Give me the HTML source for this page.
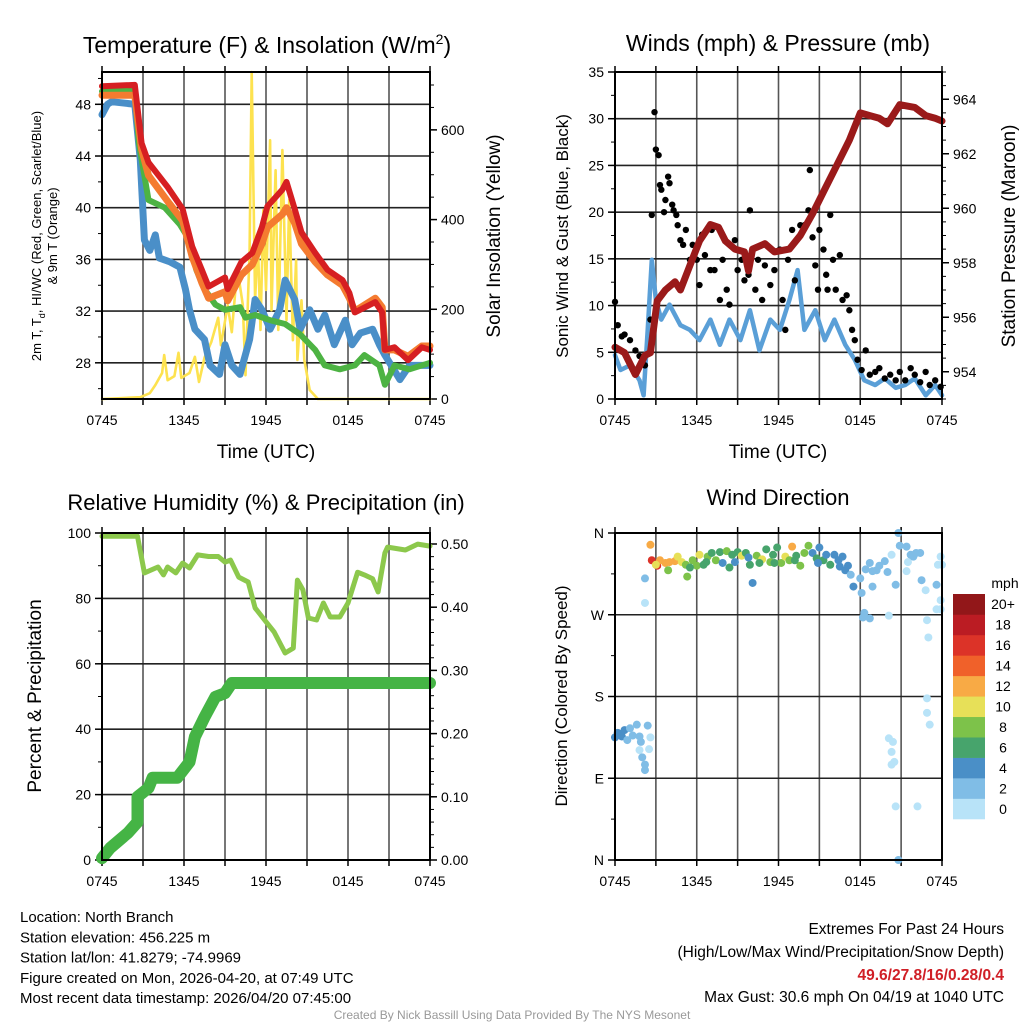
<!DOCTYPE html>
<html><head><meta charset="utf-8"><style>
html,body{margin:0;padding:0;background:#fff}
svg{display:block;font-family:"Liberation Sans",Arial,sans-serif}
</style></head><body>
<svg id="c" width="1024" height="1024" viewBox="0 0 1024 1024"></svg>
<script>
// ---------- DATA ----------
const xTickLabels=["0745","1345","1945","0145","0745"];
// temperature panel (hours since 0745)
const redT=[0,2.4,2.9,3.4,4.8,5.9,6.6,7.3,7.8,9.0,9.2,10.2,11.0,11.7,12.1,13.2,13.5,14.1,14.6,15.6,16.5,17.6,18.1,18.5,20.0,20.5,20.7,21.4,22.4,23.4,24];
const redV=[49.4,49.5,45,43.5,41.6,39.9,37,35.2,33.9,34.6,33.7,35.8,36.5,38.5,40.1,41.4,42,39.9,38.1,36.5,35.2,34.4,33.4,31.9,32.7,31.9,29,29.2,28.2,29.2,29];
const orangeV=[48.7,48.7,44.5,42.5,40.5,39,36.2,34.2,33,33.5,32.8,34.8,35.6,37.2,38.5,39.5,40,38.8,37.2,35.8,34.8,34,33,32,33,32.3,29,29,28.5,29.3,29.3];
const greenT=[0,2.4,2.7,3.4,4.6,5.7,6.4,6.9,7.5,8.3,9,10.1,10.5,11.2,12.3,13.4,14.5,15.6,16.3,17.4,18.5,19.2,20.3,20.7,21.4,22.5,24];
const greenV=[49,49.1,45,40.6,40,38.7,37.5,35.2,33.7,32.5,32.1,32.3,31.5,31.7,31.3,31,30.2,29,27.8,27.5,27.8,28.6,27.8,26.3,27.8,27.5,28];
const blueT=[0,0.4,0.7,2.4,2.8,3.1,3.5,3.9,4.2,5.0,5.7,6.1,6.4,6.8,7.5,7.9,8.6,9.0,9.5,10.1,10.8,11.2,11.7,12.3,13,13.4,14.1,14.5,15.2,15.8,16.3,17.0,17.8,18.3,18.9,19.8,20.3,20.7,21.8,22.5,24];
const blueV=[47.2,48,48.2,48,43.7,37.5,36.7,37.9,36.1,35.8,35.4,33.7,32.1,30.6,29.8,27.8,27.1,29.4,27.8,27.1,29.8,32.9,32.1,30.6,32.1,34.4,32.9,30.6,32.1,30.6,31.7,29.4,31.3,29.4,30.3,30.6,29.4,28.6,26.7,27.8,27.8];
const solarT=[0,2.8,3.5,3.9,4.4,4.55,4.8,5.3,5.6,5.8,6.4,6.8,7.1,7.5,8.0,8.5,8.7,9.2,9.5,9.9,10.3,10.5,10.8,10.95,11.2,11.4,11.6,11.8,12.0,12.3,12.4,12.7,12.9,13.2,13.5,13.7,13.97,14.2,14.3,14.6,14.8,15.2,15.8,24];
const solarV=[0,4,13,31,58,98,42,51,103,47,58,94,38,92,127,181,120,209,149,292,210,53,332,729,220,354,154,421,243,577,198,510,154,555,176,444,131,310,87,220,87,20,0,0];
// winds panel
const gustT=[0,.2,.5,.7,1.1,1.5,1.8,2.2,2.6,2.7,2.9,3.0,3.2,3.3,3.4,3.6,3.7,3.9,4.0,4.2,4.3,4.5,4.6,4.8,5.0,5.2,5.5,5.7,6.0,6.2,6.4,6.6,7.0,7.1,7.3,7.7,7.9,8.2,8.4,8.8,9.0,9.3,9.5,9.8,9.9,10.3,10.5,10.8,11.0,11.4,11.7,12.1,12.3,12.5,12.7,13.0,13.2,13.6,13.9,14.2,14.3,14.5,14.7,14.9,15.0,15.3,15.5,15.6,15.8,16.0,16.2,16.5,16.7,17.0,17.2,17.4,17.6,17.8,18.1,18.4,18.7,19.1,19.4,19.8,20.2,20.6,20.9,21.3,21.7,22.0,22.4,22.8,23.1,23.5,23.9];
const gustV=[10.4,7.9,6.7,6.9,6.3,5.2,4.6,3.6,8.5,19.7,30.7,26.7,26.1,22.9,22.4,20.0,21.3,23.8,23.1,20.8,20.2,19.7,18.6,17.0,16.5,18.1,14.9,16.5,14.9,12.2,17.6,15.4,13.8,18.1,13.8,10.6,14.9,11.7,10.1,17.0,13.8,14.9,12.7,13.3,20.2,11.7,14.9,10.6,14.3,12.2,13.8,16.0,10.6,7.4,14.9,18.1,12.7,18.6,18.6,20.2,24.5,17.3,14.3,11.7,18.1,16.0,13.3,11.7,19.7,14.9,11.7,15.4,10.6,11.1,9.5,7.4,6.3,4.2,3.1,5.2,2.6,2.9,3.3,2.2,2.6,2.0,2.9,2.0,3.3,2.6,1.8,2.9,1.5,2.0,1.3];
const windT=[0,.4,1.1,1.8,2.1,2.4,2.7,3.0,3.4,4.0,4.8,5.5,6.2,7.0,7.7,8.4,9.2,9.9,10.6,11.4,12.1,12.8,13.4,13.9,14.7,15.4,16.1,16.9,17.6,18.3,19.1,19.8,20.6,21.3,22.0,22.8,23.5,24];
const windV=[4.7,3.1,3.6,2.0,0.4,7.4,14.9,10.6,8.5,10.1,7.9,7.4,6.3,8.5,5.8,8.5,6.3,9.5,5.2,8.5,7.4,10.6,13.8,7.4,9.5,6.3,8.5,5.8,4.2,2.0,1.5,2.2,1.2,1.5,2.2,0.4,1.5,0.4];
const presT=[0,.7,1.5,2.2,2.6,3.1,3.7,4.4,4.8,5.5,6.2,7.0,7.6,8.1,8.8,9.5,9.8,10.1,11.0,11.7,12.8,13.6,14.5,15.4,16.1,16.9,17.2,18.0,18.7,19.4,20.0,20.9,22.0,22.8,23.5,24];
const presV=[954.9,954.7,953.9,954.6,954.7,956.6,957.0,957.3,957.0,957.9,958.8,959.4,959.3,958.8,958.5,958.4,957.7,958.5,958.7,958.4,958.5,959.0,959.8,960.7,961.4,962.2,962.5,963.5,963.4,963.3,963.1,963.8,963.7,963.4,963.3,963.2];
// RH / precipitation
const rhT=[0,2.6,3.1,4.1,4.5,4.8,5.4,5.9,6.4,7.0,7.8,8.5,9.0,9.4,10.0,10.7,11.2,11.9,12.6,13.4,14.0,14.3,14.7,15.1,15.7,16.2,16.7,17.4,18.0,18.7,19.2,19.8,20.2,20.7,20.9,22.2,23.1,24];
const rhV=[99,99,87.8,89.6,87.2,89.6,87.8,90.8,89.3,93.3,92.8,92.8,91.1,91.7,86.5,85,77.1,73.4,69.7,63.3,64.8,85.6,82.6,74,73.4,78.6,74.3,74.3,78.6,88,87.2,86,82,93.9,95.7,94.8,96.6,96.0];
const prT=[0,0.6,1.9,2.6,2.6,2.6,3.4,3.7,5.5,6.4,6.8,7.5,8.3,9.0,9.5,24];
const prV=[0.003,0.019,0.043,0.06,0.074,0.1,0.114,0.13,0.13,0.155,0.195,0.226,0.258,0.264,0.28,0.28];
// wind direction
const dirT=[0,0.2,0.5,0.7,0.9,1.1,1.3,1.6,1.8,1.9,1.8,2.0,2.2,2.4,2.5,2.6,2.2,
 2.2,2.2,2.6,2.7,3.1,3.3,3.7,4.0,4.4,4.6,4.9,5.2,5.3,5.7,6.0,6.2,6.5,6.8,7.1,7.4,7.7,7.9,8.2,8.6,8.8,9.0,9.3,9.6,9.9,10.1,10.4,10.8,11.1,11.4,11.6,11.9,12.2,12.5,12.8,13.0,13.3,13.6,13.9,14.2,14.5,14.8,15.0,15.3,15.5,15.8,16.1,16.4,16.7,16.9,17.3,17.5,
 3.0,3.9,5.5,6.7,8.4,9.8,10.6,11.7,13.2,14.9,16.5,17.1,
 18.0,18.4,18.7,18.9,19.2,19.4,19.8,20.0,20.3,20.6,18.9,18.1,18.2,18.7,18.3,20.1,20.8,20.9,21.4,21.5,21.7,21.9,22.1,22.4,21.4,22.5,22.8,22.9,23.0,23.6,23.7,23.9,24,23.9,23.9,20.1,20.4,20.3,20.3,20.5,20.6,22.2,22.9,22.9,23.1,20.8,23.6];
const dirV=[135,140,136,143,132,145,137,149,136,130,121,113,105,148,122,135,99,
 310,283,347,330,324,330,327,328,329,334,328,325,312,330,324,336,325,334,338,330,339,327,340,336,328,339,335,338,325,305,335,331,342,328,336,344,327,334,330,345,335,324,338,346,338,332,344,330,336,325,336,330,334,319,314,301,
 325,319,322,328,322,333,327,327,330,327,323,324,
 310,320,327,318,319,324,329,317,336,303,301,294,267,266,272,269,360,346,345,328,336,334,338,338,318,308,297,264,245,303,325,334,325,286,276,134,130,119,105,108,59,59,178,162,149,0,276];
const dirS=[4,4,4,4,3,3,3,2,3,2,1,2,2,2,1,1,3,
 2,0,12,16,17,13,12,12,12,11,10,9,8,9,8,10,7,8,6,8,7,5,8,6,5,7,10,6,7,4,8,11,7,8,6,7,8,10,9,12,7,8,8,8,5,6,4,6,5,6,4,5,4,4,3,4,
 10,8,7,7,6,5,6,7,6,5,5,5,
 2,2,2,2,2,2,2,2,1,2,2,2,2,3,2,1,2,2,2,1,2,2,2,2,1,2,1,1,1,2,1,1,1,1,1,1,1,1,1,1,1,1,1,1,1,3,1];
const cbLabels=["0","2","4","6","8","10","12","14","16","18","20+"];
const cbColors=["#b8e3f8","#80bde6","#4a8fc7","#47a46c","#7dc24a","#e7e058","#f8aa45","#f0612a","#dc3328","#bb1c23","#921719"];

// ---------- DRAWING ----------
const NS="http://www.w3.org/2000/svg";
const svg=document.getElementById('c');
function el(tag,attrs,parent,text){const e=document.createElementNS(NS,tag);for(const k in attrs)e.setAttribute(k,attrs[k]);if(text!==undefined)e.textContent=text;(parent||svg).appendChild(e);return e;}
function grp(name){const g=el('g',{},svg);return g;}
function scale(d0,d1,r0,r1){return v=>r0+(v-d0)/(d1-d0)*(r1-r0);}
function txt(g,x,y,s,size,anchor,name,extra){const t=el('text',Object.assign({x:x,y:y,'font-size':size,'text-anchor':anchor||'middle',fill:'#000'},extra||{}),g,s);return t;}
function linePath(xs,ys,X,Y){return xs.map((t,i)=>(i?'L':'M')+X(t).toFixed(1)+','+Y(ys[i]).toFixed(1)).join('');}

function frame(g,P,X,hGrid,Y){
  for(let h=3;h<24;h+=3){el('line',{x1:X(h),x2:X(h),y1:P.t,y2:P.b,stroke:'#555','stroke-width':1.6},g);}
  hGrid.forEach(v=>el('line',{x1:P.l,x2:P.r,y1:Y(v),y2:Y(v),stroke:'#222','stroke-width':1.6},g));
  for(let h=0;h<=24;h+=3){el('line',{x1:X(h),x2:X(h),y1:P.b,y2:P.b+6,stroke:'#000','stroke-width':1.5},g);el('line',{x1:X(h),x2:X(h),y1:P.t,y2:P.t-6,stroke:'#000','stroke-width':1.5},g);}
  xTickLabels.forEach((s,i)=>txt(g,X(i*6),P.b+26,s,14,'middle','x-tick-label'));
}
function border(g,P){const r=el('rect',{x:P.l,y:P.t,width:P.r-P.l,height:P.b-P.t,fill:'none',stroke:'#000','stroke-width':2},g);}
function yTicks(g,P,Y,side,major,minor,labels){
  const x=side==='l'?P.l:P.r, d=side==='l'?-1:1;
  minor.forEach(v=>el('line',{x1:x,x2:x+d*4,y1:Y(v),y2:Y(v),stroke:'#000','stroke-width':1},g));
  major.forEach((v,i)=>{el('line',{x1:x,x2:x+d*7,y1:Y(v),y2:Y(v),stroke:'#000','stroke-width':1.5},g);
    txt(g,x+d*11,Y(v)+5,labels[i],14,side==='l'?'end':'start',side==='l'?'y-tick-label':'y2-tick-label');});
}
function series(g,d,color,w,name,extra){const p=el('path',Object.assign({d:d,fill:'none',stroke:color,'stroke-width':w,'stroke-linejoin':'round','stroke-linecap':'round'},extra||{}),g);return p;}
function range(a,b,s){const r=[];for(let v=a;v<=b+1e-9;v+=s)r.push(+v.toFixed(3));return r;}

// Panel 1
(function(){
  const P={l:102,r:430,t:72,b:399};const g=grp('temperature-panel');
  const X=scale(0,24,P.l,P.r),Y=scale(25.2,50.5,P.b,P.t),Y2=scale(0,729,P.b,P.t);
  const maj=[28,32,36,40,44,48];
  frame(g,P,X,maj,Y);
  yTicks(g,P,Y,'l',maj,range(26,50,2),maj.map(String));
  yTicks(g,P,Y2,'r',[0,200,400,600],range(0,700,50),["0","200","400","600"]);
  series(g,linePath(solarT,solarV,X,Y2),'#fde24f',2.6,'solar-insolation-line');
  series(g,linePath(blueT,blueV,X,Y),'#4a8fc8',7,'wind-chill-line');
  series(g,linePath(greenT,greenV,X,Y),'#4db343',6,'dewpoint-line');
  series(g,linePath(redT,orangeV,X,Y),'#f47b30',7,'temp-9m-line');
  series(g,linePath(redT,redV,X,Y),'#d61f22',6,'temp-2m-line');
  border(g,P);
  const t=txt(g,267,53,'',23,'middle','temperature-title');
  t.innerHTML='Temperature (F) &amp; Insolation (W/m<tspan dy="-9" font-size="14">2</tspan><tspan dy="9">)</tspan>';
  txt(g,266,458,'Time (UTC)',19,'middle','x-axis-title');
  const yl=txt(g,0,0,'',13,'middle','y-axis-title',{transform:'translate(41,236) rotate(-90)'});
  yl.innerHTML='2m T, T<tspan dy="4" font-size="9">d</tspan><tspan dy="-4">, HI/WC (Red, Green, Scarlet/Blue)</tspan>';
  txt(g,0,0,'& 9m T (Orange)',13,'middle','y-axis-title-2',{transform:'translate(57,236) rotate(-90)'});
  txt(g,0,0,'Solar Insolation (Yellow)',19,'middle','y2-axis-title',{transform:'translate(500,236) rotate(-90)'});
})();

// Panel 2
(function(){
  const P={l:615,r:942,t:72,b:399};const g=grp('winds-panel');
  const X=scale(0,24,P.l,P.r),Y=scale(0,35,P.b,P.t),Y2=scale(953,965,P.b,P.t);
  const maj=[0,5,10,15,20,25,30,35];
  frame(g,P,X,maj.slice(1,7),Y);
  yTicks(g,P,Y,'l',maj,range(0,35,2.5),maj.map(String));
  yTicks(g,P,Y2,'r',[954,956,958,960,962,964],range(953,965,0.5),["954","956","958","960","962","964"]);
  series(g,linePath(windT,windV,X,Y),'#5a9fd7',4.5,'sonic-wind-line');
  gustT.forEach((t,i)=>{const c=el('circle',{cx:X(t),cy:Y(gustV[i]),r:3.2,fill:'#000'},g);
    
    });
  series(g,linePath(presT,presV,X,Y2),'#9a1a1a',7,'pressure-line');
  border(g,P);
  txt(g,778,51,'Winds (mph) & Pressure (mb)',23,'middle','winds-title');
  txt(g,778,458,'Time (UTC)',19,'middle','x-axis-title');
  txt(g,0,0,'Sonic Wind & Gust (Blue, Black)',17,'middle','y-axis-title',{transform:'translate(568,236) rotate(-90)'});
  txt(g,0,0,'Station Pressure (Maroon)',19,'middle','y2-axis-title',{transform:'translate(1015,236) rotate(-90)'});
})();

// Panel 3
(function(){
  const P={l:102,r:430,t:533,b:860};const g=grp('humidity-panel');
  const X=scale(0,24,P.l,P.r),Y=scale(0,100,P.b,P.t),Y2=scale(0,0.5174,P.b,P.t);
  const maj=[0,20,40,60,80,100];
  frame(g,P,X,[20,40,60,80],Y);
  yTicks(g,P,Y,'l',maj,range(0,100,10),maj.map(String));
  yTicks(g,P,Y2,'r',[0,0.1,0.2,0.3,0.4,0.5],range(0,0.5,0.02),["0.00","0.10","0.20","0.30","0.40","0.50"]);
  series(g,linePath(rhT,rhV,X,Y),'#8cc84c',5,'relative-humidity-line');
  series(g,linePath(prT,prV,X,Y2),'#45b445',12,'precipitation-line');
  border(g,P);
  txt(g,266,510,'Relative Humidity (%) & Precipitation (in)',22,'middle','humidity-title');
  txt(g,0,0,'Percent & Precipitation',19,'middle','y-axis-title',{transform:'translate(41,696) rotate(-90)'});
})();

// Panel 4
(function(){
  const P={l:615,r:942,t:533,b:860};const g=grp('wind-direction-panel');
  const X=scale(0,24,P.l,P.r),Y=scale(0,360,P.b,P.t);
  frame(g,P,X,[90,180,270],Y);
  yTicks(g,P,Y,'l',[0,90,180,270,360],range(0,360,45),["N","E","S","W","N"]);
  dirT.forEach((t,i)=>{const b=Math.min(10,Math.floor(dirS[i]/2));
    const c=el('circle',{cx:X(t),cy:Y(dirV[i]),r:4,fill:cbColors[b]},g);
    
    });
  border(g,P);
  txt(g,778,505,'Wind Direction',22,'middle','wind-direction-title');
  txt(g,0,0,'Direction (Colored By Speed)',17,'middle','y-axis-title',{transform:'translate(567,696) rotate(-90)'});
  const cb=grp('speed-colorbar');
  const bh=225/11;
  cbColors.forEach((col,i)=>{const y=819-(i+1)*bh;
    const r=el('rect',{x:953,y:y,width:32,height:bh+0.3,fill:col},cb);
    
    
    txt(cb,1003,y+bh/2+5,cbLabels[i],14,'middle','colorbar-label');});
  txt(cb,1005,588,'mph',14,'middle','colorbar-title');
})();

// footer text
(function(){
  const g=grp('station-info');
  ["Location: North Branch","Station elevation: 456.225 m","Station lat/lon: 41.8279; -74.9969","Figure created on Mon, 2026-04-20, at 07:49 UTC","Most recent data timestamp: 2026/04/20 07:45:00"]
   .forEach((s,i)=>txt(g,20,922+i*20.3,s,15,'start','station-info-line'));
  const h=grp('extremes-info');
  txt(h,1004,934,'Extremes For Past 24 Hours',15.5,'end','extremes-title');
  txt(h,1004,957,'(High/Low/Max Wind/Precipitation/Snow Depth)',15.5,'end','extremes-subtitle');
  txt(h,1004,980,'49.6/27.8/16/0.28/0.4',15.5,'end','extremes-values',{fill:'#d01f26','font-weight':'bold'});
  txt(h,1004,1002,'Max Gust: 30.6 mph On 04/19 at 1040 UTC',15.5,'end','max-gust-text');
  txt(h,512,1019,'Created By Nick Bassill Using Data Provided By The NYS Mesonet',12,'middle','credit-text',{fill:'#999'});
})();
</script>
</body></html>
